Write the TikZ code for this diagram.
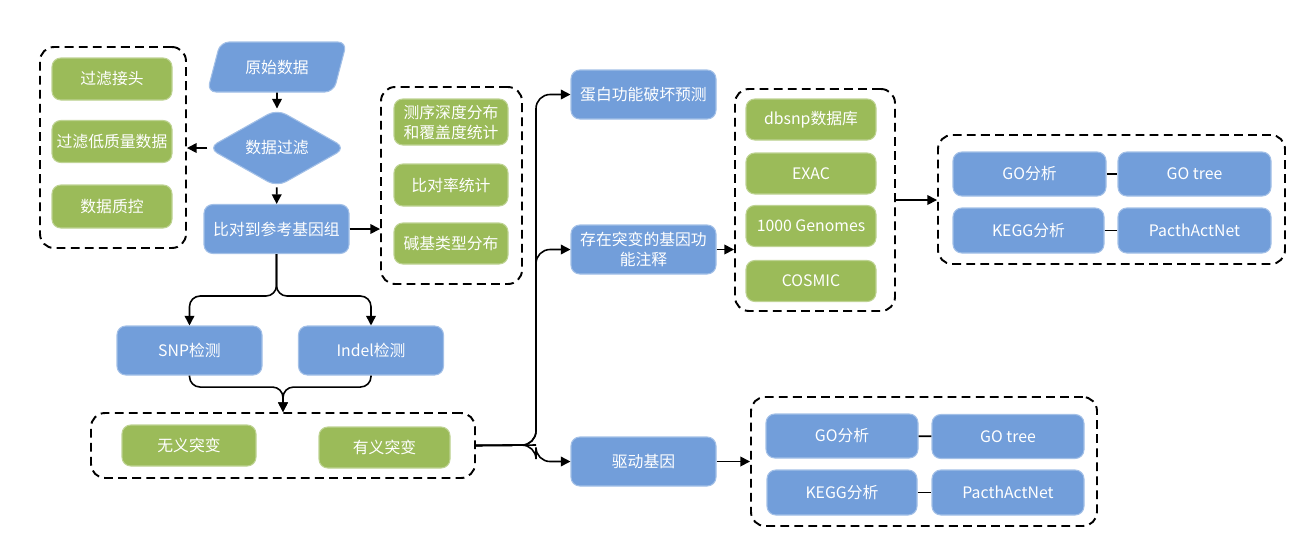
\documentclass[tikz,border=0pt]{standalone}
\usepackage{fontspec}
\setmainfont{Noto Sans CJK SC}
\usepackage{tikz}
\usetikzlibrary{shapes.geometric,arrows.meta,calc}

\definecolor{boxblue}{RGB}{114,158,218}
\definecolor{boxgreen}{RGB}{155,187,89}

\begin{document}
\begin{tikzpicture}[
    bluebox/.style={draw=boxblue!65!white, line width=0.6pt, fill=boxblue, rounded corners=5pt, text=white, align=center, font=\fontsize{9}{11.4}\selectfont, minimum width=2.9cm, minimum height=0.98cm, inner sep=1pt},
    greenbox/.style={draw=boxgreen!65!white, line width=0.6pt, fill=boxgreen, rounded corners=5pt, text=white, align=center, font=\fontsize{9}{11.4}\selectfont, minimum height=0.84cm, inner sep=1pt},
    group/.style={draw, dash pattern=on 5pt off 3pt, line width=1.1pt, rounded corners=8pt, inner sep=0pt},
    arrow/.style={-{Triangle[length=5.5pt, width=5.5pt]}, line width=0.9pt},
    link/.style={line width=0.9pt}
]
    \useasboundingbox (0,0) rectangle (26.2,-10.84);

    % Main column
    \node[bluebox, trapezium, trapezium left angle=67, trapezium right angle=113, trapezium stretches=true, minimum width=2.8cm, minimum height=1.0cm] (raw) at (5.54,-1.34) {原始数据};
    \node[bluebox, diamond, rounded corners=6pt, minimum width=2.76cm, minimum height=1.44cm, inner sep=0pt] (filt) at (5.54,-2.96) {数据过滤};
    \node[bluebox] (align) at (5.53,-4.58) {比对到参考基因组};

    % Filtering group (left)
    \node[group, minimum width=2.92cm, minimum height=4.02cm] (lbox) at (2.26,-2.95) {};
    \node[greenbox, minimum width=2.4cm] (l1) at (2.24,-1.58) {过滤接头};
    \node[greenbox, minimum width=2.4cm] (l2) at (2.24,-2.83) {过滤低质量数据};
    \node[greenbox, minimum width=2.4cm, minimum height=0.86cm] (l3) at (2.24,-4.13) {数据质控};

    % Alignment statistics group (right)
    \node[group, minimum width=2.82cm, minimum height=3.94cm] (rbox) at (9.03,-3.71) {};
    \node[greenbox, minimum width=2.28cm, minimum height=0.92cm] (r1) at (9.02,-2.44) {测序深度分布\\和覆盖度统计};
    \node[greenbox, minimum width=2.28cm] (r2) at (9.02,-3.70) {比对率统计};
    \node[greenbox, minimum width=2.28cm, minimum height=0.82cm] (r3) at (9.02,-4.87) {碱基类型分布};

    \draw[arrow] (raw) -- (filt);
    \draw[arrow] (filt) -- (align);
    \draw[arrow] (filt.west) -- (lbox.east |- filt.west);
    \draw[arrow] (align.east) -- (rbox.west |- align.east);

    % Variant calling
    \node[bluebox] (snp) at (3.79,-7.01) {SNP检测};
    \node[bluebox] (indel) at (7.42,-7.01) {Indel检测};

    \node[group, minimum width=7.68cm, minimum height=1.30cm] (mbox) at (5.66,-8.91) {};
    \node[greenbox, minimum width=2.68cm, minimum height=0.82cm] (m1) at (3.78,-8.91) {无义突变};
    \node[greenbox, minimum width=2.62cm, minimum height=0.82cm] (m2) at (7.69,-8.95) {有义突变};

    \draw[arrow, rounded corners=6pt] (align.south) -- ++(0,-0.84) -| (snp.north);
    \draw[arrow, rounded corners=6pt] (align.south) -- ++(0,-0.84) -| (indel.north);
    \draw[arrow, rounded corners=6pt] (snp.south) |- ([yshift=0.5cm]mbox.north) -- (mbox.north);
    \draw[arrow, rounded corners=6pt] (indel.south) |- ([yshift=0.5cm]mbox.north) -- (mbox.north);

    % Annotation branches
    \node[bluebox] (prot) at (12.87,-1.89) {蛋白功能破坏预测};
    \node[bluebox] (annot) at (12.87,-4.99) {存在突变的基因功\\能注释};
    \node[bluebox] (driver) at (12.87,-9.23) {驱动基因};

    \coordinate (hub) at (10.72,-8.90);
    \draw[link, rounded corners=8pt] (mbox.east) -- (hub);
    \draw[arrow, rounded corners=8pt] (mbox.east) -- (hub) |- (prot.west);
    \draw[arrow, rounded corners=8pt] (mbox.east) -- (hub) |- (annot.west);
    \draw[arrow, rounded corners=8pt] (mbox.east) -- (hub) |- (driver.west);

    % Databases
    \node[group, minimum width=3.2cm, minimum height=4.44cm] (dbbox) at (16.30,-4.00) {};
    \node[greenbox, minimum width=2.6cm, minimum height=0.82cm] (d1) at (16.22,-2.39) {dbsnp数据库};
    \node[greenbox, minimum width=2.6cm, minimum height=0.82cm] (d2) at (16.22,-3.47) {EXAC};
    \node[greenbox, minimum width=2.6cm, minimum height=0.82cm] (d3) at (16.22,-4.52) {1000 Genomes};
    \node[greenbox, minimum width=2.6cm, minimum height=0.82cm] (d4) at (16.22,-5.62) {COSMIC};

    \draw[arrow] (annot.east) -- (dbbox.west |- annot.east);

    % Enrichment (top)
    \node[group, minimum width=6.94cm, minimum height=2.58cm] (gobox) at (22.23,-3.99) {};
    \node[bluebox, minimum width=3.06cm, minimum height=0.88cm] (g1) at (20.59,-3.48) {GO分析};
    \node[bluebox, minimum width=3.06cm, minimum height=0.88cm] (g2) at (23.89,-3.48) {GO tree};
    \node[bluebox, minimum width=3.02cm, minimum height=0.90cm] (g3) at (20.57,-4.61) {KEGG分析};
    \node[bluebox, minimum width=3.06cm, minimum height=0.90cm] (g4) at (23.89,-4.61) {PacthActNet};

    \draw[arrow] (dbbox.east) -- (gobox.west |- dbbox.east);
    \draw[link] (g1) -- (g2);
    \draw[link] (g3) -- (g4);

    % Enrichment (driver genes)
    \node[group, minimum width=6.92cm, minimum height=2.58cm] (kbox) at (18.48,-9.23) {};
    \node[bluebox, minimum width=3.04cm, minimum height=0.88cm] (k1) at (16.84,-8.72) {GO分析};
    \node[bluebox, minimum width=3.04cm, minimum height=0.88cm] (k2) at (20.16,-8.73) {GO tree};
    \node[bluebox, minimum width=3.0cm, minimum height=0.90cm] (k3) at (16.84,-9.85) {KEGG分析};
    \node[bluebox, minimum width=3.04cm, minimum height=0.90cm] (k4) at (20.16,-9.85) {PacthActNet};

    \draw[arrow] (driver.east) -- (kbox.west);
    \draw[link] (k1) -- (k2);
    \draw[link] (k3) -- (k4);

\end{tikzpicture}
\end{document}
